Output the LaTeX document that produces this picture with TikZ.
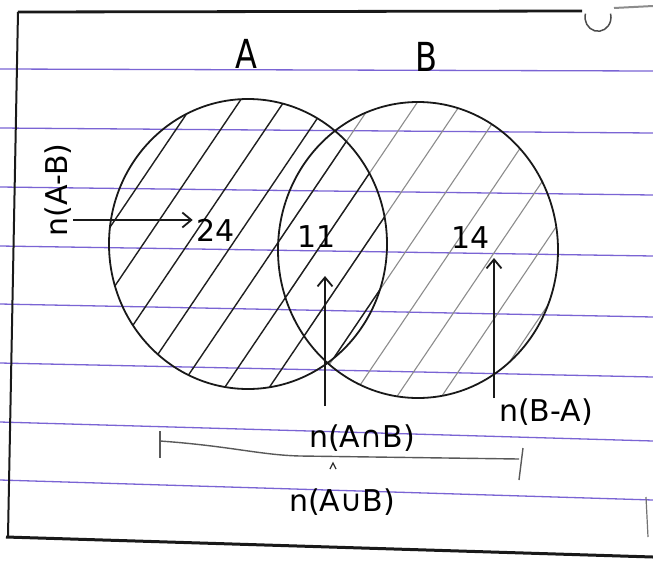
\documentclass[tikz,border=0pt]{standalone}
\usepackage{fontspec}
\setmainfont{DejaVu Sans}
\usetikzlibrary{arrows.meta}
\definecolor{rulecol}{RGB}{122,100,212}
\begin{document}
\begin{tikzpicture}[x=1pt,y=-1pt,
  ruleline/.style={rulecol, line width=1.3pt},
  framestroke/.style={black!90, line width=2.8pt},
  setcirc/.style={black!90, line width=1.8pt},
  hatchA/.style={black!88, line width=1.4pt},
  hatchB/.style={black!45, line width=1.1pt},
  hand/.style={font=\fontsize{30}{30}\selectfont, inner sep=0pt},
  setname/.style={font=\fontsize{32}{32}\selectfont, inner sep=0pt, yscale=1.25},
  arr/.style={black!90, line width=1.8pt, -{Straight Barb[length=9pt,width=15pt]}},
  bracket/.style={black!65, line width=1.4pt},
]
\useasboundingbox (0,0) rectangle (653,563);
\fill[white] (0,0) rectangle (653,563);
% ruled paper lines
\foreach \a/\b in {69/71, 128/133, 187/195, 246/256, 304/317, 363/377, 422/441, 480/500}
  \draw[ruleline] (0,\a) -- (653,\b);
% page frame
\draw[framestroke] (582,11) -- (18,12);
\draw[black!90, line width=2pt] (18,12) -- (8,536);
\draw[black!90, line width=3pt] (6,537) -- (653,557);
\draw[black!45, line width=2pt] (614,8) -- (653,6);
\draw[black!70, line width=1.5pt] (598,17) ++(195:13) arc[start angle=195, end angle=-15, x radius=13, y radius=14];
\draw[black!55, line width=1.2pt] (646,497) -- (648,537);
% hatching
\begin{scope}
  \clip (418,250) ellipse [x radius=140, y radius=148];
  \foreach \c in {654,720,...,1120} \draw[hatchB] (200,\c-296) -- (700,\c-1036);
\end{scope}
\begin{scope}
  \clip (248,244) ellipse [x radius=139, y radius=145];
  \foreach \c in {390,456,...,860} \draw[hatchA] (50,\c-74) -- (450,\c-666);
\end{scope}
% circles
\draw[setcirc] (248,244) ellipse [x radius=139, y radius=145];
\draw[setcirc] (418,250) ellipse [x radius=140, y radius=148];
% set names
\node[setname] (labA) at (246,54) {A};
\node[setname] (labB) at (426,57) {B};
% numbers
\node[hand] (n24) at (216,230) {24};
\node[hand] (n11) at (317,237) {11};
\node[hand] (n14) at (471,238) {14};
% labels
\node[hand, rotate=90] (lAmB) at (58,190) {n(A-B)};
\node[hand] (lAcapB) at (362,438) {n(A∩B)};
\node[hand] (lBmA) at (546,412) {n(B-A)};
\node[hand] (lAcupB) at (342,502) {n(A∪B)};
% arrows
\coordinate (s1) at (73,220);
\draw[arr] (s1) -- ([xshift=-4pt]n24.west |- s1);
\coordinate (s2) at (325,406);
\coordinate (t2) at (325,276);
\draw[arr] (s2) -- (t2);
\coordinate (s3) at (494,398);
\coordinate (t3) at (494,258);
\draw[arr] (s3) -- (t3);
% bracket for union
\coordinate (bl) at (160,441);
\coordinate (br) at (519,459);
\draw[bracket] (160,431) -- (160,458);
\draw[bracket] (bl) .. controls (230,446) and (260,455) .. (300,456) -- (br);
\draw[bracket] (523,448) -- (519,480);
\draw[black!80, line width=1.3pt] (330,469) -- (333,463) -- (336,469);
\end{tikzpicture}
\end{document}
